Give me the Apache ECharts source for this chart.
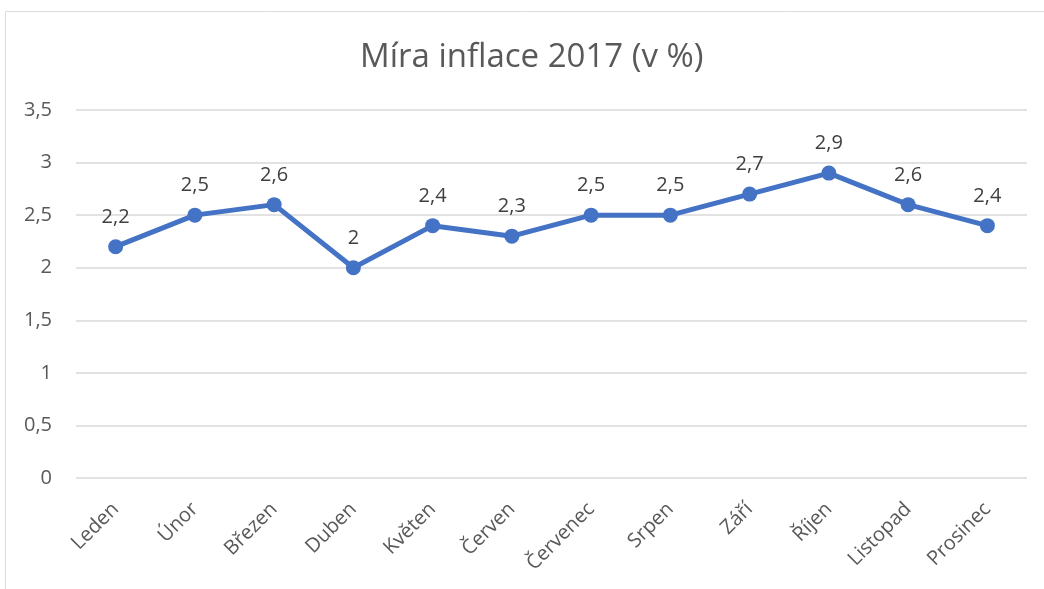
<!DOCTYPE html>
<html lang="cs" style="height: 100%">
<head>
  <meta charset="utf-8">
</head>
<body style="height: 100%; margin: 0; background: #fff">
  <div id="container" style="width: 1044px; height: 589px"></div>

  <script type="text/javascript" src="https://fastly.jsdelivr.net/npm/echarts@6.0.0/dist/echarts.min.js"></script>
  <script type="text/javascript">
    // data
    var months = ['Leden', 'Únor', 'Březen', 'Duben', 'Květen', 'Červen',
      'Červenec', 'Srpen', 'Září', 'Říjen', 'Listopad', 'Prosinec'];
    var inflace = [2.2, 2.5, 2.6, 2.0, 2.4, 2.3, 2.5, 2.5, 2.7, 2.9, 2.6, 2.4];

    var fmt = function (v) { return String(v).replace('.', ','); };

    var dom = document.getElementById('container');
    var myChart = echarts.init(dom, null, { renderer: 'canvas' });

    var option = {
      animation: false,
      title: {
        text: 'Míra inflace 2017 (v %)',
        left: 355,
        top: 36,
        textStyle: {
          fontFamily: 'Open Sans',
          fontSize: 33,
          fontWeight: 'normal',
          color: '#595959'
        }
      },
      graphic: [{
        type: 'rect',
        silent: true,
        shape: { x: 5.5, y: 11.5, width: 1100, height: 700 },
        style: { fill: 'none', stroke: '#dcdcdc', lineWidth: 1 }
      }],
      grid: {
        left: 76,
        right: 17,
        top: 110,
        bottom: 111
      },
      xAxis: {
        type: 'category',
        data: months,
        boundaryGap: true,
        axisLine: { show: false },
        axisTick: { show: false },
        axisLabel: {
          rotate: 45,
          margin: 28,
          fontFamily: 'Open Sans',
          fontSize: 20,
          color: '#595959'
        }
      },
      yAxis: {
        type: 'value',
        min: 0,
        max: 3.5,
        interval: 0.5,
        axisLine: { show: false },
        axisTick: { show: false },
        splitLine: { lineStyle: { color: '#d9d9d9', width: 1.5 } },
        axisLabel: {
          margin: 24,
          fontFamily: 'Open Sans',
          fontSize: 20,
          color: '#595959',
          formatter: fmt
        }
      },
      series: [{
        type: 'line',
        data: inflace,
        symbol: 'circle',
        symbolSize: 15,
        lineStyle: { color: '#4472c4', width: 5 },
        itemStyle: { color: '#4472c4' },
        label: {
          show: true,
          position: 'top',
          distance: 12,
          fontFamily: 'Open Sans',
          fontSize: 20,
          color: '#404040',
          formatter: function (p) { return fmt(p.value); }
        }
      }]
    };

    myChart.setOption(option);
    window.addEventListener('resize', myChart.resize);
  </script>
</body>
</html>
